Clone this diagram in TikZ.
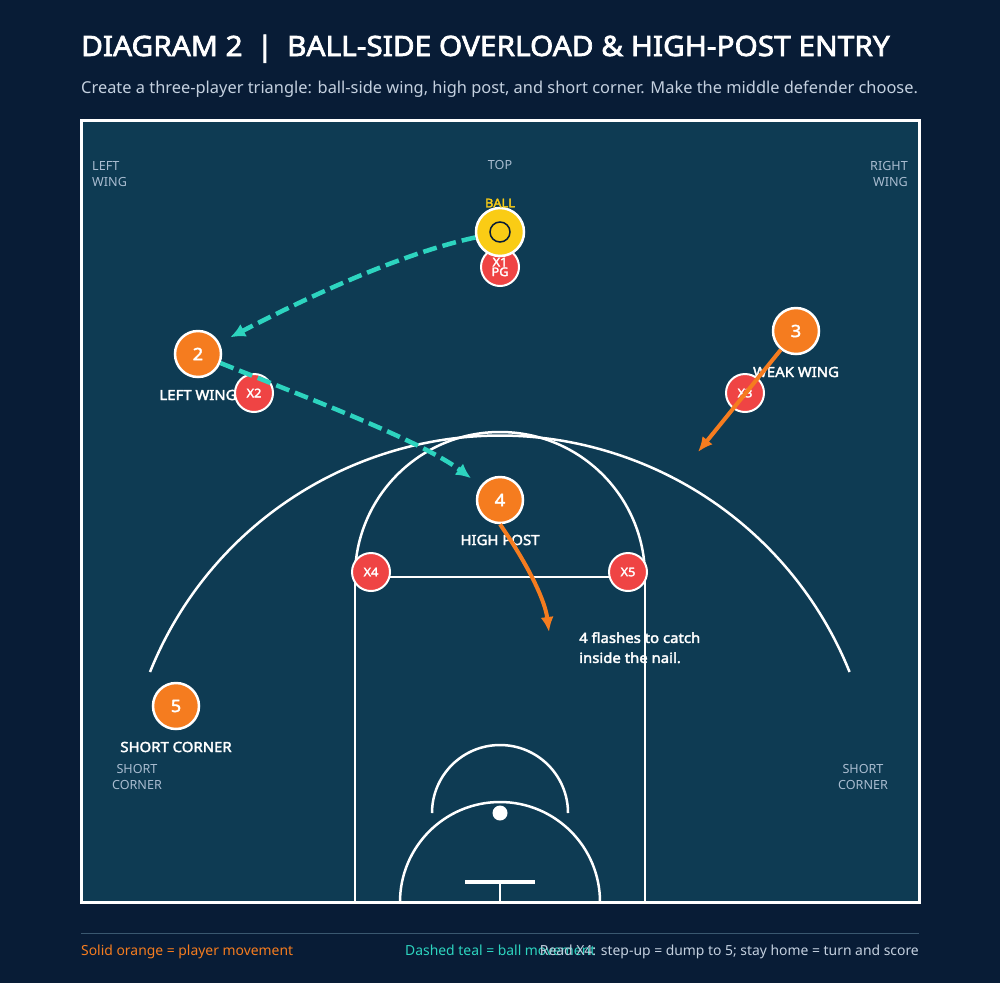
\documentclass[tikz,border=0pt]{standalone}
\usepackage{fontspec}
\setmainfont{Noto Sans}[BoldFont={Noto Sans}, BoldFeatures={FakeBold=2.5, FakeStretch=1.065}]
\usetikzlibrary{arrows.meta}

\definecolor{pagebg}{HTML}{081C36}
\definecolor{courtbg}{HTML}{0E3B53}
\definecolor{offcol}{HTML}{F57C1F}
\definecolor{defcol}{HTML}{EF4444}
\definecolor{ballcol}{HTML}{FACC15}
\definecolor{passcol}{HTML}{2DD4BF}
\definecolor{softtext}{HTML}{A9BCD0}
\definecolor{subtext}{HTML}{C4D0DF}
\definecolor{rulecol}{HTML}{3A5870}

\tikzset{
  offense/.style={circle, fill=offcol, draw=white, line width=2.5, minimum size=46, inner sep=0,
    text=white, font=\bfseries\fontsize{17}{17}\selectfont},
  defense/.style={circle, fill=defcol, draw=white, line width=2, minimum size=38, inner sep=0,
    text=white, font=\bfseries\fontsize{12}{12}\selectfont},
  spotlabel/.style={text=white, font=\bfseries\fontsize{14}{14}\selectfont},
  zonelabel/.style={text=softtext, font=\fontsize{12.6}{16}\selectfont},
  courtline/.style={draw=white, line width=2.5},
  move/.style={draw=offcol, line width=4, -{Latex[length=15,width=13]}},
  pass/.style={draw=passcol, line width=4.5, dash pattern=on 14 off 6, -{Latex[length=15,width=14]}},
}

\begin{document}
\begin{tikzpicture}[x=1pt, y=-1pt]
        \fill[pagebg] (0, 0) rectangle (1000, 983);
        \useasboundingbox (0, 0) rectangle (1000, 983);

        % title and subtitle
        \node[anchor=base west, inner sep=0, text=white, font=\bfseries\fontsize{28}{28}\selectfont] (title)
            at (81, 56) {DIAGRAM 2\hspace{14pt}|\hspace{14pt}BALL-SIDE OVERLOAD \& HIGH-POST ENTRY};
        \node[anchor=base west, inner sep=0, text=subtext, font=\fontsize{16.4}{16}\selectfont] (subtitle)
            at (81, 93) {Create a three-player triangle: ball-side wing, high post, and short corner. Make the middle defender choose.};

        % court
        \fill[courtbg] (81, 120) rectangle (919, 902);

        \node[anchor=north west, inner sep=0, text=white, align=left, font=\bfseries\fontsize{14}{20}\selectfont] (note)
            at (579, 632) {4 flashes to catch\\inside the nail.};

        \draw[courtline] (355, 902) -- (355, 577) -- (645, 577) -- (645, 902);
        \draw[courtline] (355, 577) arc[start angle=-180, end angle=0, radius=145];
        \draw[courtline] (150, 672) arc[start angle=-158.1, end angle=-21.9, radius=377];
        \draw[courtline] (432, 813) arc[start angle=-180, end angle=0, radius=68];
        \draw[courtline] (400, 902) arc[start angle=-180, end angle=0, radius=100];
        \draw[white, line width=4] (465, 882) -- (535, 882);
        \draw[white, line width=2.5] (500, 882) -- (500, 902);
        \fill[white] (500, 813) circle (7.5);
        \draw[white, line width=3] (81, 120) rectangle (919, 902);

        % zone labels
        \node[zonelabel, anchor=north west, align=left, inner sep=0] (lw) at (92, 161) {LEFT\\WING};
        \node[zonelabel, inner sep=0] (top) at (500, 165) {TOP};
        \node[zonelabel, anchor=north east, align=right, inner sep=0] (rw) at (908, 161) {RIGHT\\WING};
        \node[zonelabel, anchor=north, align=center, inner sep=0] (scl) at (137, 764) {SHORT\\CORNER};
        \node[zonelabel, anchor=north, align=center, inner sep=0] (scr) at (863, 764) {SHORT\\CORNER};

        % spot labels
        \node[spotlabel] (lab2) at (198, 395) {LEFT WING};
        \node[spotlabel] (lab3) at (796, 372) {WEAK WING};
        \node[spotlabel] (lab4) at (500, 540) {HIGH POST};
        \node[spotlabel] (lab5) at (176, 747) {SHORT CORNER};

        % defenders
        \node[defense, align=center, font=\bfseries\fontsize{12}{7}\selectfont] (x1) at (500, 267) {X1\\PG};
        \node[defense] (x2) at (254, 393) {X2};
        \node[defense] (x3) at (745, 393) {X3};
        \node[defense] (x4) at (371, 572) {X4};
        \node[defense] (x5) at (628, 572) {X5};

        % offense
        \node[offense] (p2) at (198, 354) {2};
        \node[offense] (p3) at (796, 331) {3};
        \node[offense] (p4) at (500, 500) {4};
        \node[offense] (p5) at (176, 706) {5};

        \node[circle, fill=ballcol, draw=white, line width=2.5, minimum size=48] (ball) at (500, 232) {};
        \node[circle, draw=pagebg, line width=1.5, minimum size=20, inner sep=0] (seam) at (ball) {};
        \node[text=ballcol, font=\bfseries\fontsize{12}{12}\selectfont] (balllab) at (500, 203) {BALL};

        % movement
        \coordinate (cut3) at (698, 452);
        \coordinate (nail) at (549, 632);
        \draw[pass, shorten >=12] (ball) .. controls (400, 254) and (310, 296) .. (p2);
        \draw[pass, shorten >=12] (p2) .. controls (300, 395) and (420, 440) .. (p4);
        \draw[move] (p3) -- (cut3);
        \draw[move] (p4.south) .. controls (528, 565) and (545, 600) .. (nail);

        % legend
        \draw[rulecol, line width=1] (81, 933) -- (919, 933);
        \node[anchor=base west, inner sep=0, text=offcol, font=\fontsize{13.9}{13}\selectfont] (leg1)
            at (81, 955) {Solid orange = player movement};
        \node[anchor=base west, inner sep=0, text=passcol, font=\fontsize{13.9}{13}\selectfont] (leg2)
            at (405, 955) {Dashed teal = ball movement};
        \node[anchor=base east, inner sep=0, text=subtext, font=\fontsize{13.9}{13}\selectfont] (leg3)
            at (919, 955) {Read X4: step-up = dump to 5; stay home = turn and score};
\end{tikzpicture}
\end{document}
